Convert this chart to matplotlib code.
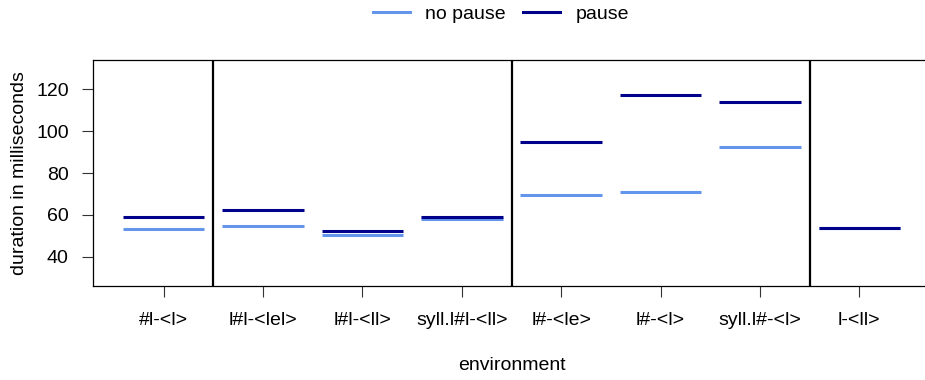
import matplotlib
matplotlib.use('Agg')
import matplotlib.pyplot as plt
from matplotlib.lines import Line2D

plt.rcParams['font.family'] = ['Liberation Sans', 'DejaVu Sans']

categories = ['#l-<l>', 'l#l-<lel>', 'l#l-<ll>', 'syll.l#l-<ll>',
              'l#-<le>', 'l#-<l>', 'syll.l#-<l>', 'l-<ll>']
no_pause = [53.1, 54.5, 50.2, 57.9, 69.3, 70.7, 92.6, 53.8]
pause = [59.0, 62.1, 52.1, 59.0, 94.8, 117.1, 114.0, 53.8]
separators = [1.5, 4.5, 7.5]
yticks = [40, 60, 80, 100, 120]

c_np = '#6495ED'
c_p = '#00008B'
fs = 14

W, H = 925, 380
fig = plt.figure(figsize=(W / 100, H / 100), dpi=100)
ax = fig.add_axes([93 / W, 1 - 286 / H, (930 - 93) / W, (286 - 60) / H])

half = 0.41
for i in range(len(categories)):
    x = i + 1
    ax.plot([x - half, x + half], [no_pause[i], no_pause[i]], color=c_np, lw=2.2,
            solid_capstyle='butt')
    ax.plot([x - half, x + half], [pause[i], pause[i]], color=c_p, lw=2.2,
            solid_capstyle='butt')

for s in separators:
    ax.axvline(s, color='black', lw=1.6)

ax.set_xlim(0.288, 8.712)
ax.set_ylim(26, 134)
ax.set_xticks(range(1, len(categories) + 1))
ax.set_xticklabels(categories)
ax.set_yticks(yticks)
ax.tick_params(axis='both', labelsize=fs, length=8, width=0.8, color='#333333')
ax.tick_params(axis='y', pad=9.5)
ax.tick_params(axis='x', pad=11)
for sp in ax.spines.values():
    sp.set_linewidth(0.9)

ax.set_ylabel('duration in milliseconds', fontsize=fs, labelpad=6)
ax.set_xlabel('environment', fontsize=fs, labelpad=20)

handles = [Line2D([], [], color=c_np, lw=2.2), Line2D([], [], color=c_p, lw=2.2)]
fig.legend(handles, ['no pause', 'pause'], loc='center', bbox_to_anchor=(501 / W, 1 - 14 / H),
           ncol=2, frameon=False, fontsize=fs, handlelength=1.9, columnspacing=0.9,
           handletextpad=0.8)

fig.savefig('out.png', dpi=100)
